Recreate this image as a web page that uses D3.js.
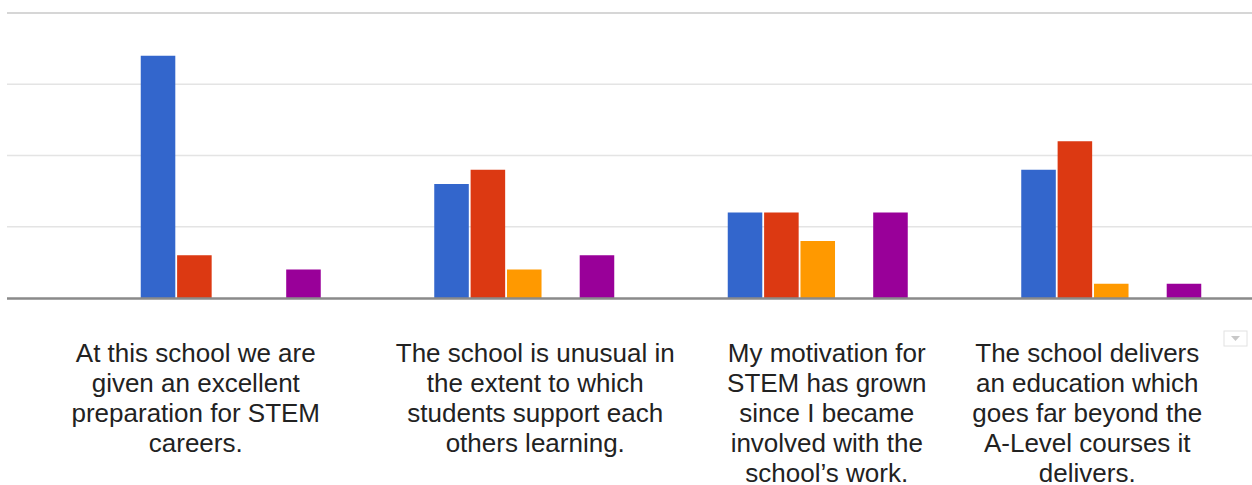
<!DOCTYPE html>
<html>
<head>
<meta charset="utf-8">
<script src="https://cdn.jsdelivr.net/npm/d3@7"></script>
<style>
  body { margin: 0; background: #fff; }
  .label { font-family: "Liberation Sans", Arial, sans-serif; font-size: 26px; fill: #222; }
</style>
</head>
<body>
<script>
var categories = ["q1", "q2", "q3", "q4"];

var labelLines = [
    ["At this school we are", "given an excellent", "preparation for STEM", "careers."],
    ["The school is unusual in", "the extent to which", "students support each", "others learning."],
    ["My motivation for", "STEM has grown", "since I became", "involved with the", "school\u2019s work."],
    ["The school delivers", "an education which", "goes far beyond the", "A-Level courses it", "delivers."]
];

var series = ["Strongly agree", "Agree", "Neutral", "Disagree", "Strongly disagree"];

// responses per statement, one array per series
var stronglyAgree    = [17, 8, 6, 9];
var agree            = [3, 9, 6, 11];
var neutral          = [0, 2, 4, 1];
var disagree         = [0, 0, 0, 0];
var stronglyDisagree = [2, 3, 6, 1];

var yTicks = [0, 5, 10, 15, 20];

var values = [stronglyAgree, agree, neutral, disagree, stronglyDisagree];
var colors = ["#3366cc", "#dc3912", "#ff9900", "#109618", "#990099"];

// labels are not centred exactly under the groups in the original
var labelShift = [-35, 11, 9, -24];

var width = 1252,
    height = 485;

var svg = d3.select("body").append("svg")
    .attr("width", width)
    .attr("height", height);

var x = d3.scaleBand()
    .domain(categories)
    .range([84, 1258]);

var x1 = d3.scaleBand()
    .domain(series)
    .range([-90, 90])
    .paddingInner(0.05);

var y = d3.scaleLinear()
    .domain([0, 20])
    .range([298, 13]);

var color = d3.scaleOrdinal()
    .domain(series)
    .range(colors);

// gridlines
svg.append("g")
    .selectAll("line")
    .data(yTicks.filter(function(d) { return d > 0; }))
    .enter().append("line")
    .attr("x1", 7)
    .attr("x2", width)
    .attr("y1", function(d) { return y(d); })
    .attr("y2", function(d) { return y(d); })
    .attr("stroke", function(d) { return d == 20 ? "#d6d6d6" : "#e4e4e4"; })
    .attr("stroke-width", function(d) { return d == 20 ? 2 : 1.5; });

var groups = svg.selectAll(".group")
    .data(categories)
    .enter().append("g")
    .attr("class", "group")
    .attr("transform", function(d) { return "translate(" + (x(d) + x.bandwidth() / 2) + ",0)"; });

groups.selectAll("rect")
    .data(function(d, i) {
        return series.map(function(s, j) { return {series: s, value: values[j][i]}; });
    })
    .enter().append("rect")
    .filter(function(d) { return d.value > 0; })
    .attr("x", function(d) { return x1(d.series); })
    .attr("width", x1.bandwidth())
    .attr("y", function(d) { return y(d.value); })
    .attr("height", function(d) { return y(0) - y(d.value); })
    .style("fill", function(d) { return color(d.series); });

// baseline
svg.append("line")
    .attr("x1", 7)
    .attr("x2", width)
    .attr("y1", y(0) + 0.5)
    .attr("y2", y(0) + 0.5)
    .attr("stroke", "#8a8a8a")
    .attr("stroke-width", 2.5);

// category labels
var labels = svg.selectAll(".label")
    .data(categories)
    .enter().append("text")
    .attr("class", "label")
    .attr("text-anchor", "middle");

labels.selectAll("tspan")
    .data(function(d, i) { return labelLines[i].map(function(t) { return {text: t, i: i}; }); })
    .enter().append("tspan")
    .attr("x", function(d) { return x(categories[d.i]) + x.bandwidth() / 2 + labelShift[d.i]; })
    .attr("y", function(d, j) { return y(0) + 64 + j * 30; })
    .text(function(d) { return d.text; });

// little menu button at the right
var menu = svg.append("g")
    .attr("transform", "translate(1224,331)");

menu.append("rect")
    .attr("width", 23)
    .attr("height", 15)
    .attr("fill", "#fff")
    .attr("stroke", "#e2e2e2");

menu.append("path")
    .attr("d", "M7,5 L16,5 L11.5,10 Z")
    .attr("fill", "#c8c8c8");
</script>
</body>
</html>
